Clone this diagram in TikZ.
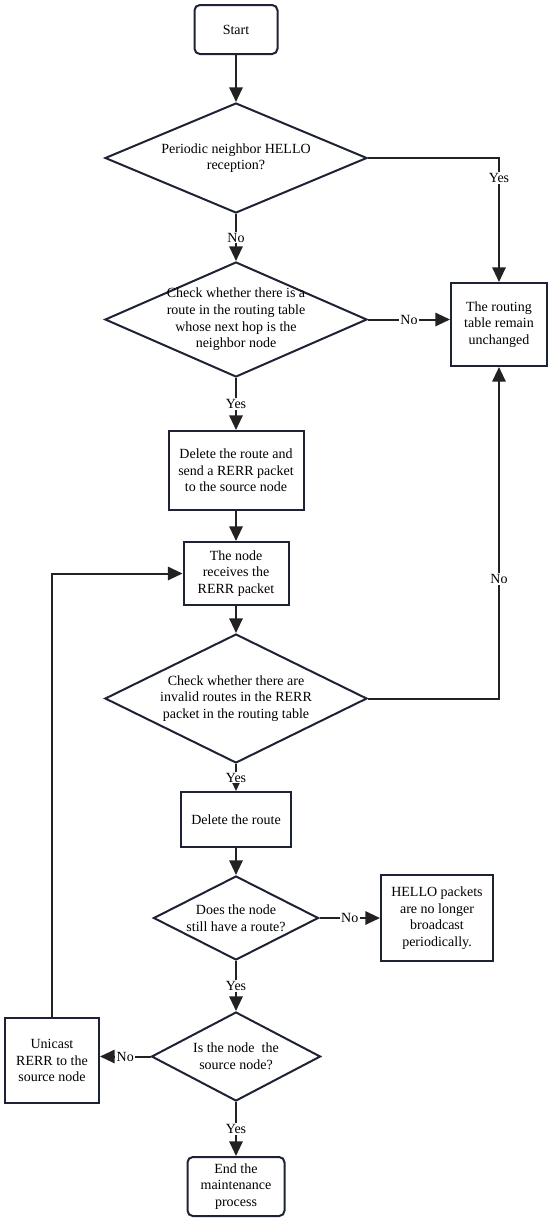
\documentclass[tikz,border=0pt]{standalone}
\usepackage{fontspec}
\setmainfont{Liberation Serif}
\usetikzlibrary{arrows.meta,shapes.geometric}
\definecolor{boxcol}{HTML}{1E2235}
\definecolor{linecol}{HTML}{222222}

\begin{document}
\begin{tikzpicture}[x=0.75pt,y=-0.75pt,
  font=\fontsize{10.5}{12.5}\selectfont,
  box/.style={draw=boxcol,line width=1.5pt,align=center,inner sep=2pt},
  endbox/.style={box,rounded corners=4pt},
  decision/.style={diamond,draw=boxcol,line width=1.5pt,inner sep=0pt},
  flow/.style={draw=linecol,line width=1.5pt,-{Triangle[length=11pt,width=10pt]}},
  lbl/.style={fill=white,inner sep=1pt}]
\useasboundingbox (0,0) rectangle (550,1221);
% main column
\node[endbox,minimum width=62.25pt,minimum height=36.75pt] (start) at (236,29.5) {Start};
\node[decision,minimum width=196.5pt,minimum height=82.5pt,
  label={[align=center]center:Periodic neighbor HELLO\\reception?}] (hello) at (236,158) {};
\node[decision,minimum width=196.5pt,minimum height=86.25pt,
  label={[align=center]center:Check whether there is a\\route in the routing table\\whose next hop is the\\neighbor node}] (nexthop) at (236,319.5) {};
\node[box,minimum width=101.25pt,minimum height=59.25pt] (delroute) at (236,470.5) {Delete the route and\\send a RERR packet\\to the source node};
\node[box,minimum width=78.75pt,minimum height=47.25pt] (receive) at (236,573.5) {The node\\receives the\\RERR packet};
\node[decision,minimum width=196.5pt,minimum height=96.75pt,
  label={[align=center]center:Check whether there are\\invalid routes in the RERR\\packet in the routing table}] (invalid) at (236,698.5) {};
\node[box,minimum width=82.5pt,minimum height=41.25pt] (delete) at (236,819.5) {Delete the route};
\node[decision,minimum width=123.75pt,minimum height=63pt,
  label={[align=center]center:Does the node\\still have a route?}] (still) at (236,918) {};
\node[decision,minimum width=126.75pt,minimum height=66.75pt,
  label={[align=center]center:Is the node~ the\\source node?}] (source) at (236,1056.5) {};
\node[endbox,minimum width=72.75pt,minimum height=44.25pt] (finish) at (236,1186.5) {End the\\maintenance\\process};
% side boxes
\node[box,minimum width=72pt,minimum height=62.25pt] (unchanged) at (499,324.5) {The routing\\table remain\\unchanged};
\node[box,minimum width=84pt,minimum height=64.5pt] (nohello) at (437,918) {HELLO packets\\are no longer\\broadcast\\periodically.};
\node[box,minimum width=70.5pt,minimum height=63.75pt] (unicast) at (52,1060.5) {Unicast\\RERR to the\\source node};
% connectors
\draw[flow] (start) -- (hello);
\draw[flow] (hello) -- node[lbl] {No} (nexthop);
\draw[flow] (hello.east) -| node[lbl,pos=0.58] {Yes} (unchanged.north);
\draw[flow] (nexthop.east) -- node[lbl] {No} (nexthop.east -| unchanged.west);
\draw[flow] (nexthop) -- node[lbl] {Yes} (delroute);
\draw[flow] (delroute) -- (receive);
\draw[flow] (receive) -- (invalid);
\draw[flow] (invalid.east) -| node[lbl,pos=0.68] {No} (unchanged.south);
\draw[flow] (invalid) -- node[lbl] {Yes} (delete);
\draw[flow] (delete) -- (still);
\draw[flow] (still.east) -- node[lbl] {No} (nohello.west);
\draw[flow] (still) -- node[lbl] {Yes} (source);
\draw[flow] (source.west) -- node[lbl] {No} (source.west -| unicast.east);
\draw[flow] (source) -- node[lbl] {Yes} (finish);
\draw[flow] (unicast.north) |- (receive.west);
\end{tikzpicture}
\end{document}
